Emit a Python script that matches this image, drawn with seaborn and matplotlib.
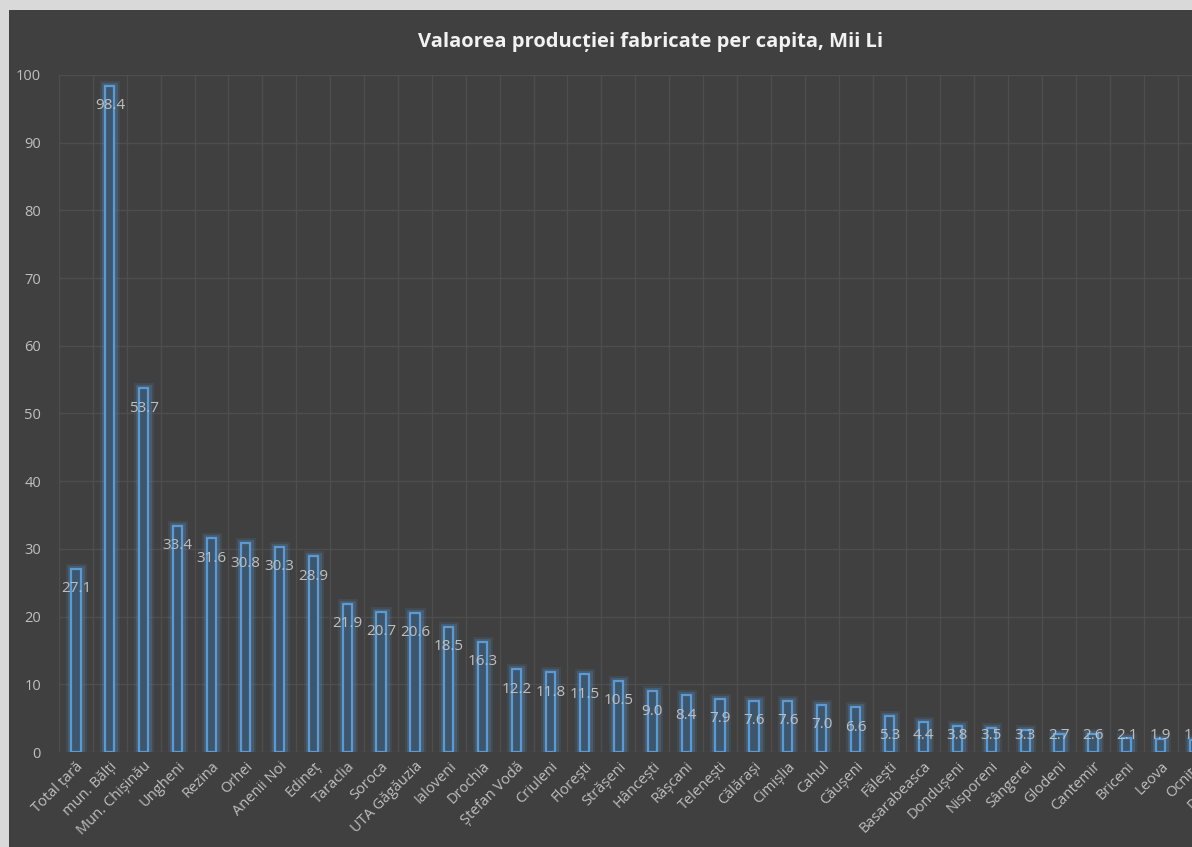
import matplotlib
matplotlib.use("Agg")
import matplotlib.pyplot as plt
import matplotlib.patheffects as pe
from matplotlib.patches import Rectangle
import seaborn as sns
import pandas as pd

categories = ["Total țară", "mun. Bălți", "Mun. Chișinău", "Ungheni", "Rezina", "Orhei",
              "Anenii Noi", "Edineț", "Taraclia", "Soroca", "UTA Găgăuzia", "Ialoveni",
              "Drochia", "Ștefan Vodă", "Criuleni", "Florești", "Strășeni", "Hâncești",
              "Râșcani", "Telenești", "Călărași", "Cimișlia", "Cahul", "Căușeni",
              "Fălești", "Basarabeasca", "Dondușeni", "Nisporeni", "Sângerei", "Glodeni",
              "Cantemir", "Briceni", "Leova", "Ocnița", "Dubăsari", "Șoldănești"]
values = [27.1, 98.4, 53.7, 33.4, 31.6, 30.8, 30.3, 28.9, 21.9, 20.7, 20.6, 18.5,
          16.3, 12.2, 11.8, 11.5, 10.5, 9.0, 8.4, 7.9, 7.6, 7.6, 7.0, 6.6,
          5.3, 4.4, 3.8, 3.5, 3.3, 2.7, 2.6, 2.1, 1.9, 1.8, 1.5, 1.2]
yticks = list(range(0, 101, 10))

df = pd.DataFrame({"cat": categories, "val": values})

BG = "#404040"
GRID = "#4e4e4e"
TXT = "#bfbfbf"
BLUE = "#5b9bd5"

sns.set_style("dark")
plt.rcParams["font.family"] = ["Open Sans", "DejaVu Sans"]

W, H = 1192, 847
fig = plt.figure(figsize=(W / 100, H / 100), dpi=100)
fig.patch.set_facecolor("#d9d9d9")
fig.patches.append(Rectangle((9 / W, 0), 1, (H - 10) / H, transform=fig.transFigure,
                             facecolor=BG, edgecolor="none", zorder=-1))

n = len(categories)
step = 33.9
ax = fig.add_axes([59 / W, (H - 752) / H, n * step / W, (752 - 75) / H])
ax.set_facecolor(BG)

sns.barplot(data=df, x="cat", y="val", ax=ax, width=0.27,
            color="#3d5568", edgecolor=BLUE, linewidth=1.6, saturation=1)
for p in ax.patches:
    p.set_facecolor("#3e566b")
    p.set_path_effects([pe.Stroke(linewidth=8, foreground=BLUE, alpha=0.12),
                        pe.Stroke(linewidth=5, foreground=BLUE, alpha=0.22),
                        pe.Normal()])

ax.set_xlim(-0.5, n - 0.5)
ax.set_ylim(0, 100)
ax.set_yticks(yticks)
ax.set_xlabel("")
ax.set_ylabel("")

# grid: horizontal at ticks, vertical at category boundaries
for y in yticks:
    ax.axhline(y, color=GRID, lw=1, zorder=0)
for i in range(n + 1):
    ax.axvline(i - 0.5, color=GRID, lw=1, zorder=0)
ax.grid(False)
for s in ax.spines.values():
    s.set_visible(False)

ax.tick_params(axis="both", length=0, colors=TXT, labelsize=10.5)
ax.tick_params(axis="y", pad=13)
ax.tick_params(axis="x", pad=5)
ax.set_xticks(range(n))
ax.set_xticklabels(categories, rotation=45, ha="right", rotation_mode="anchor",
                   color=TXT, fontsize=10.5)

for i, v in enumerate(values):
    ax.text(i, max(v - 2.95, 2.5), f"{v:.1f}", ha="center", va="center",
            color=TXT, fontsize=11, zorder=5)

fig.text(651 / W, 1 - 42 / H, "Valaorea producției fabricate per capita, Mii Li",
         ha="center", va="center", color="#f2f2f2", fontsize=14.5, fontweight="bold")

fig.savefig("out.png", dpi=100, facecolor=fig.get_facecolor())
